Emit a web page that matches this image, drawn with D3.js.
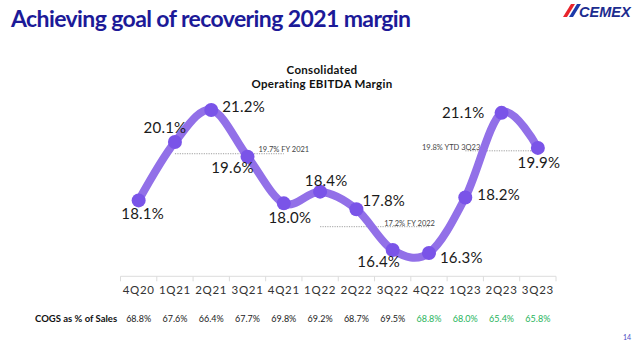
<!DOCTYPE html>
<html>
<head>
<meta charset="utf-8">
<script src="https://cdn.jsdelivr.net/npm/d3@7"></script>
<style>
  html, body { margin: 0; padding: 0; background: #ffffff; }
  svg { display: block; }
</style>
</head>
<body>
<svg id="chart" width="640" height="347"></svg>
<script>
// ---- data ----
const quarters = ["4Q20","1Q21","2Q21","3Q21","4Q21","1Q22","2Q22","3Q22","4Q22","1Q23","2Q23","3Q23"];
const ebitdaMargin = [18.1, 20.1, 21.2, 19.6, 18.0, 18.4, 17.8, 16.4, 16.3, 18.2, 21.1, 19.9];
const cogsPct = [68.8, 67.6, 66.4, 67.7, 69.8, 69.2, 68.7, 69.5, 68.8, 68.0, 65.4, 65.8];
const cogsHighlight = [false,false,false,false,false,false,false,false,true,true,true,true];
const refValues = [19.7, 17.2, 19.8];
const refLabels = ["19.7% FY 2021", "17.2% FY 2022", "19.8% YTD 3Q23"];
const refSpans = [["1Q21","4Q21"], ["1Q22","4Q22"], ["1Q23","3Q23"]];

// ---- drawing ----
const svg = d3.select("#chart");
const font = "Lato, 'DejaVu Sans', sans-serif";

const x = d3.scaleBand().domain(quarters).range([120.5, 556]).padding(0);
const y = d3.scaleLinear().domain([15.5, 22]).range([276.3, 86.6]);
const cx = q => x(q) + x.bandwidth() / 2;

// Title
svg.append("text").attr("x", 11).attr("y", 27)
  .attr("font-family", font).attr("font-weight", 700).attr("font-size", 23)
  .attr("letter-spacing", -0.6)
  .attr("fill", "#1c1a98").text("Achieving goal of recovering 2021 margin");

// Logo
const logo = svg.append("g");
logo.append("path").attr("d", "M571,4 L575,4 L567,17 L563,17 Z").attr("fill", "#e8242b");
logo.append("path").attr("d", "M577,4 L581,4 L573,17 L569,17 Z").attr("fill", "#1c3aa9");
logo.append("text").attr("x", 579).attr("y", 17)
  .attr("font-family", "'Liberation Sans', Arial, sans-serif").attr("font-weight", 700)
  .attr("font-style", "italic").attr("font-size", 14.5).attr("fill", "#1c2c8f").text("CEMEX");

// Chart title
const ct = svg.append("text").attr("font-family", font).attr("font-weight", 700)
  .attr("font-size", 11.5).attr("letter-spacing", 0.3).attr("fill", "#111").attr("text-anchor", "middle");
ct.append("tspan").attr("x", 322).attr("y", 74).text("Consolidated");
ct.append("tspan").attr("x", 322).attr("y", 88).text("Operating EBITDA Margin");

// X axis
const xAxis = d3.axisBottom(x).tickSize(0).tickPadding(0);
const axisG = svg.append("g").attr("transform", "translate(0,276.3)");
axisG.append("line").attr("x1", x.range()[0]).attr("x2", x.range()[1])
  .attr("stroke", "#dcdcdc").attr("stroke-width", 1);
axisG.selectAll("line.tick").data(quarters.concat(["_end"])).enter().append("line")
  .attr("class", "tick")
  .attr("x1", (d, i) => i < quarters.length ? x(d) : x.range()[1])
  .attr("x2", (d, i) => i < quarters.length ? x(d) : x.range()[1])
  .attr("y1", 0).attr("y2", 5).attr("stroke", "#dcdcdc");
svg.append("g").attr("transform", "translate(0,294)").call(xAxis)
  .call(g => g.select(".domain").remove())
  .call(g => g.selectAll("text").attr("font-family", font).attr("font-size", 11.5)
    .attr("letter-spacing", 0.7).attr("fill", "#333").attr("dy", 0));

// Reference lines
refValues.forEach((v, i) => {
  const [a, b] = refSpans[i];
  const x1 = cx(a), x2 = cx(b);
  svg.append("line").attr("x1", x1).attr("x2", x2).attr("y1", y(v)).attr("y2", y(v))
    .attr("stroke", "#777").attr("stroke-width", 0.7).attr("stroke-dasharray", "1.2,1.2");
});
svg.append("text").attr("x", cx("3Q21") + 11).attr("y", y(19.7) - 2)
  .attr("font-family", font).attr("font-size", 7.5).attr("fill", "#444").text(refLabels[0]);
svg.append("text").attr("x", cx("4Q22") + 6).attr("y", y(17.2) - 1).attr("text-anchor", "end")
  .attr("font-family", font).attr("font-size", 7.5).attr("fill", "#444").text(refLabels[1]);
svg.append("text").attr("x", cx("1Q23") + 15).attr("y", y(19.8) - 1).attr("text-anchor", "end")
  .attr("font-family", font).attr("font-size", 7.5).attr("fill", "#444").text(refLabels[2]);

// Line
const pts = quarters.map((q, i) => [cx(q), y(ebitdaMargin[i])]);
svg.append("path").attr("d", d3.line().curve(d3.curveCardinal.tension(0))(pts))
  .attr("fill", "none").attr("stroke", "#9270e8").attr("stroke-width", 8)
  .attr("stroke-linecap", "round");

svg.selectAll("circle.pt").data(pts).enter().append("circle")
  .attr("cx", d => d[0]).attr("cy", d => d[1]).attr("r", 7).attr("fill", "#7a54e8");

// Data labels
const labelPlace = [
  [4, 19, "middle"], [-10, -9, "middle"], [11, 2, "start"], [-15, 16, "middle"],
  [6, 20, "middle"], [6, -6, "middle"], [6, -3, "start"], [-14, 17, "middle"],
  [11, 10, "start"], [12, 2, "start"], [-17, 5, "end"], [1, 20, "middle"]
];
svg.selectAll("text.dl").data(ebitdaMargin).enter().append("text")
  .attr("class", "dl")
  .attr("x", (d, i) => pts[i][0] + labelPlace[i][0])
  .attr("y", (d, i) => pts[i][1] + labelPlace[i][1])
  .attr("text-anchor", (d, i) => labelPlace[i][2])
  .attr("font-family", font).attr("font-size", 15).attr("letter-spacing", 0.2).attr("fill", "#1a1a1a")
  .text(d => d.toFixed(1) + "%");

// COGS row
svg.append("text").attr("x", 35).attr("y", 322)
  .attr("font-family", font).attr("font-weight", 700).attr("font-size", 9.5).attr("fill", "#111")
  .text("COGS as % of Sales");
svg.selectAll("text.cogs").data(cogsPct).enter().append("text")
  .attr("class", "cogs")
  .attr("x", (d, i) => cx(quarters[i])).attr("y", 322).attr("text-anchor", "middle")
  .attr("font-family", font).attr("font-size", 9)
  .attr("fill", (d, i) => cogsHighlight[i] ? "#27b45c" : "#222")
  .text(d => d.toFixed(1) + "%");

// Page number
svg.append("text").attr("x", 631).attr("y", 340).attr("text-anchor", "end")
  .attr("font-family", font).attr("font-size", 7).attr("fill", "#4b4bc4").text("14");
</script>
</body>
</html>
